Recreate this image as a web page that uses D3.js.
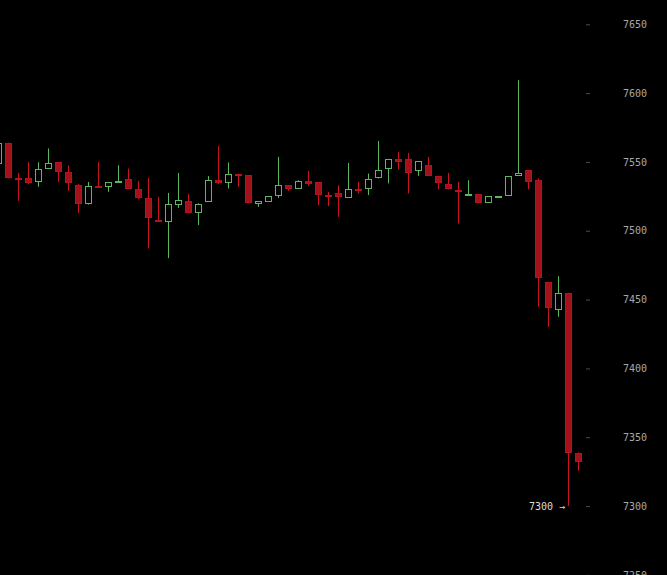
<!DOCTYPE html>
<html>
<head>
<meta charset="utf-8">
<script src="https://cdn.jsdelivr.net/npm/d3@7"></script>
<style>
  html, body { margin: 0; padding: 0; background: #000; }
  svg { display: block; }
</style>
</head>
<body>
<svg id="svgRoot" width="667" height="575"></svg>
<script>
// candles, oldest first
const open_vals = [7548.4, 7563.6, 7538.5, 7538, 7535.5, 7545.2, 7549.8, 7542.6, 7533.1, 7519.3,
  7532.2, 7532, 7535.8, 7537.3, 7530, 7523.5, 7507.6, 7506.5, 7518.6, 7521.5,
  7513, 7521, 7536.7, 7534.4, 7541.3, 7540.2, 7519.3, 7521, 7525.3, 7533.1,
  7530.7, 7536, 7535.1, 7526.2, 7527.1, 7524, 7530.3, 7530.2, 7538, 7545.2,
  7551.8, 7552.5, 7543.5, 7548.1, 7539.7, 7533.8, 7529.3, 7526.1, 7526.4, 7520.3,
  7524.9, 7525.3, 7539.9, 7544, 7536.7, 7462.5, 7442.8, 7454.9, 7338.7]
const high_vals = [7563.6, 7564, 7542, 7549.8, 7549.8, 7559.8, 7550, 7547.6, 7534, 7535.5,
  7550, 7535.5, 7547.6, 7545.2, 7536.2, 7538.4, 7524.6, 7527.5, 7542, 7526.6,
  7520, 7539.7, 7561.7, 7549.6, 7541.5, 7540.5, 7521.5, 7525.1, 7553.7, 7533,
  7536.7, 7543.5, 7535.3, 7528.3, 7533.1, 7549.3, 7535.5, 7541.6, 7565.3, 7552,
  7557.3, 7556.6, 7550.7, 7553.7, 7540, 7542, 7535.5, 7536.7, 7526.5, 7525.1,
  7525.2, 7539.7, 7609.4, 7544.2, 7538, 7463, 7467, 7455, 7339]
const low_vals = [7548.4, 7538, 7521.7, 7533.8, 7532, 7545, 7535.5, 7529, 7513, 7519,
  7531.5, 7528.3, 7535.8, 7530.5, 7523, 7487.1, 7507, 7480.1, 7516.6, 7512.8,
  7504.1, 7521, 7534, 7530.7, 7531.9, 7520, 7517.4, 7521, 7523.9, 7529,
  7530.5, 7532.4, 7518.6, 7517.9, 7510.1, 7523.9, 7527.1, 7525.9, 7538, 7534.4,
  7544.5, 7527.1, 7539.9, 7539.7, 7530.2, 7530, 7505.3, 7526, 7520, 7520.3,
  7524.9, 7525.3, 7539.8, 7530, 7444.7, 7430.2, 7437.5, 7300, 7325.6]
const close_vals = [7563.6, 7538.2, 7538, 7534.8, 7544.7, 7549.6, 7542.8, 7534.6, 7519.3, 7532.4,
  7531.9, 7535.5, 7536.2, 7530.7, 7523.5, 7509.4, 7507.2, 7519.3, 7522.2, 7513,
  7519.8, 7536.7, 7534.4, 7541.1, 7541, 7520.3, 7521.5, 7525.1, 7533.1, 7530.7,
  7536, 7533.8, 7525.9, 7525.9, 7524.2, 7530, 7530, 7537.3, 7544.5, 7551.8,
  7550, 7542, 7550.5, 7539.9, 7534.4, 7530.2, 7529, 7526.4, 7520.3, 7525.1,
  7525.2, 7539.7, 7542.3, 7535.5, 7465.4, 7443.6, 7454.5, 7338.7, 7332.2]

const price_ticks = [7250, 7300, 7350, 7400, 7450, 7500, 7550, 7600, 7650]
const low_marker = 7300

let data = open_vals.map((o, i) => ({
  i: i,
  open: o,
  high: high_vals[i],
  low: low_vals[i],
  close: close_vals[i]
}))

let svg = d3.select("#svgRoot")

let scale_x = d3.scaleLinear()
  .domain([0, data.length - 1])
  .range([-1.5, 578.5])

let scale_y = d3.scaleLinear()
  .domain([7250, 7650])
  .range([574.9, 24.3])

let g_candles = svg.append("g").attr("class", "g_candles")
let g_yAxis = svg.append("g").attr("class", "g_yAxis")

let candle = g_candles.selectAll(".candle").data(data)
  .enter()
  .append("g")
  .attr("class", "candle")

let up = (d) => d.close >= d.open
let cx = (d) => Math.round(scale_x(d.i) - 0.5) + 0.5

candle.append("line")
  .attr("x1", cx)
  .attr("x2", cx)
  .attr("y1", (d) => scale_y(d.high))
  .attr("y2", (d) => scale_y(d.low))
  .attr("stroke", (d) => up(d) ? "#5cb85c" : "#c8141e")
  .attr("stroke-width", 1)

candle.append("rect")
  .attr("x", (d) => cx(d) - 3)
  .attr("width", 6)
  .attr("y", (d) => Math.round(scale_y(Math.max(d.open, d.close))) + 0.5)
  .attr("height", (d) => Math.max(1, Math.round(scale_y(Math.min(d.open, d.close))) - Math.round(scale_y(Math.max(d.open, d.close))) - 1))
  .attr("fill", (d) => up(d) ? "#000" : "#a3111a")
  .attr("stroke", (d) => up(d) ? "#5cb85c" : "#b8131c")
  .attr("stroke-width", 1)

// right price axis: short dashes and labels
g_yAxis.attr("transform", "translate(647, 0)")
  .call(d3.axisRight(scale_y).tickValues(price_ticks).tickFormat(d3.format("d")).tickSize(0).tickPadding(0))
g_yAxis.select(".domain").remove()
g_yAxis.selectAll(".tick text")
  .attr("text-anchor", "end")
  .attr("fill", "#a8a8a8")
  .attr("font-family", "DejaVu Sans Mono, monospace")
  .attr("font-size", "10px")
g_yAxis.selectAll(".tick").append("line")
  .attr("x1", -61)
  .attr("x2", -57)
  .attr("stroke", "#4a4a4a")
  .attr("stroke-width", 1)

// low price marker
svg.append("text")
  .attr("x", 565)
  .attr("y", scale_y(low_marker))
  .attr("dy", "0.35em")
  .attr("text-anchor", "end")
  .attr("fill", "#dcdcdc")
  .attr("font-family", "DejaVu Sans Mono, monospace")
  .attr("font-size", "10px")
  .text(low_marker + " →")
</script>
</body>
</html>
